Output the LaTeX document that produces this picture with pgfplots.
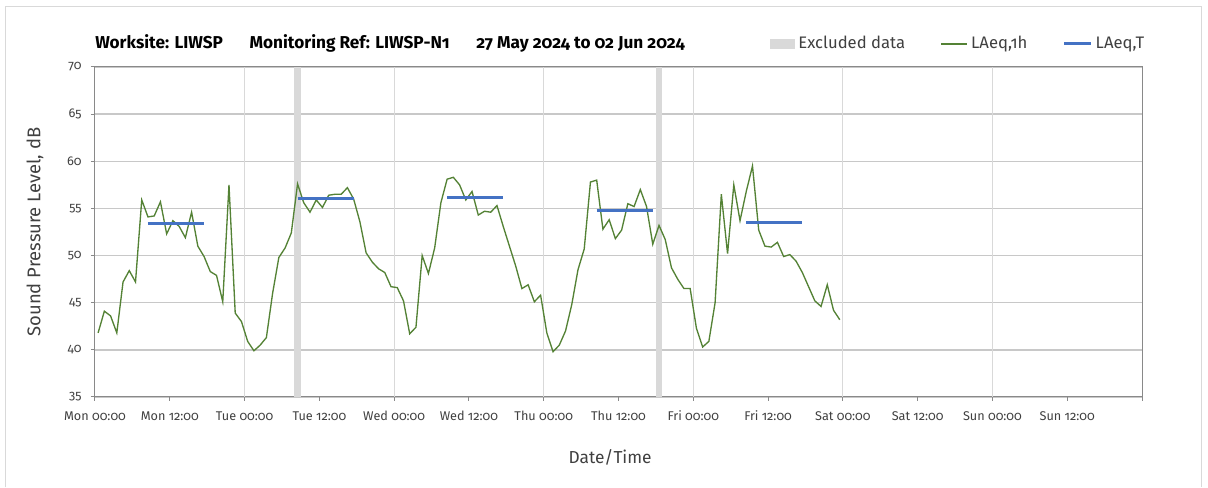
\documentclass[border=0pt]{standalone}
\usepackage{fontspec}
\setmainfont{Fira Sans}[Numbers=OldStyle]
\usepackage{pgfplots}
\usepackage{pgfplotstable}
\pgfplotsset{compat=1.18}

\definecolor{lgreen}{RGB}{84,130,53}
\definecolor{lblue}{RGB}{68,114,196}
\definecolor{excl}{RGB}{217,217,217}
\definecolor{hgrid}{RGB}{200,200,200}
\definecolor{vgrid}{RGB}{217,217,217}
\definecolor{axframe}{RGB}{137,137,137}
\definecolor{txt}{RGB}{64,64,64}

% LAeq,1h, hours from Mon 00:00 (mid-hour)
\pgfplotstableread[row sep=\\]{
t L \\
0.5 41.8 \\ 1.5 44.1 \\ 2.5 43.6 \\ 3.5 41.8 \\ 4.5 47.2 \\ 5.5 48.4 \\
6.5 47.2 \\ 7.5 55.9 \\ 8.5 54.1 \\ 9.5 54.2 \\ 10.5 55.7 \\ 11.5 52.3 \\
12.5 53.7 \\ 13.5 53.1 \\ 14.5 51.9 \\ 15.5 54.6 \\ 16.5 51.0 \\ 17.5 49.9 \\
18.5 48.3 \\ 19.5 47.9 \\ 20.5 45.1 \\ 21.5 57.5 \\ 22.5 43.9 \\ 23.5 43.0 \\
24.5 40.9 \\ 25.5 39.9 \\ 26.5 40.5 \\ 27.5 41.3 \\ 28.5 46.0 \\ 29.5 49.8 \\
30.5 50.8 \\ 31.5 52.4 \\ 32.5 57.6 \\ 33.5 55.6 \\ 34.5 54.6 \\ 35.5 55.9 \\
36.5 55.1 \\ 37.5 56.4 \\ 38.5 56.5 \\ 39.5 56.5 \\ 40.5 57.2 \\ 41.5 56.0 \\
42.5 53.6 \\ 43.5 50.3 \\ 44.5 49.3 \\ 45.5 48.6 \\ 46.5 48.2 \\ 47.5 46.7 \\
48.5 46.6 \\ 49.5 45.2 \\ 50.5 41.7 \\ 51.5 42.4 \\ 52.5 50.0 \\ 53.5 48.1 \\
54.5 50.8 \\ 55.5 55.6 \\ 56.5 58.1 \\ 57.5 58.3 \\ 58.5 57.5 \\ 59.5 55.9 \\
60.5 56.8 \\ 61.5 54.3 \\ 62.5 54.7 \\ 63.5 54.6 \\ 64.5 55.3 \\ 65.5 53.1 \\
66.5 51.0 \\ 67.5 48.9 \\ 68.5 46.5 \\ 69.5 46.9 \\ 70.5 45.1 \\ 71.5 45.8 \\
72.5 41.8 \\ 73.5 39.8 \\ 74.5 40.5 \\ 75.5 42.0 \\ 76.5 44.8 \\ 77.5 48.5 \\
78.5 50.7 \\ 79.5 57.8 \\ 80.5 58.0 \\ 81.5 52.8 \\ 82.5 53.8 \\ 83.5 51.8 \\
84.5 52.7 \\ 85.5 55.5 \\ 86.5 55.2 \\ 87.5 57.0 \\ 88.5 55.2 \\ 89.5 51.2 \\
90.5 53.2 \\ 91.5 51.7 \\ 92.5 48.7 \\ 93.5 47.5 \\ 94.5 46.5 \\ 95.5 46.5 \\
96.5 42.3 \\ 97.5 40.3 \\ 98.5 40.9 \\ 99.5 45.0 \\ 100.5 56.5 \\ 101.5 50.2 \\
102.5 57.5 \\ 103.5 53.7 \\ 104.5 56.8 \\ 105.5 59.5 \\ 106.5 52.7 \\ 107.5 51.0 \\
108.5 50.9 \\ 109.5 51.4 \\ 110.5 49.9 \\ 111.5 50.1 \\ 112.5 49.4 \\ 113.5 48.2 \\
114.5 46.7 \\ 115.5 45.2 \\ 116.5 44.6 \\ 117.5 46.9 \\ 118.5 44.2 \\ 119.5 43.2 \\
}\hourly

\begin{document}
\begin{tikzpicture}
\fill[white] (0pt,0pt) rectangle (906pt,366pt);
\draw[vgrid, line width=0.75pt] (3.75pt,0.5pt) -- (3.75pt,360.75pt) -- (900.75pt,360.75pt) -- (900.75pt,0.5pt);

\node[anchor=base west, inner sep=0pt, font=\bfseries\fontsize{12.9}{15}\selectfont]
  at (71.25pt,329.25pt)
  {Worksite: LIWSP\hspace{20pt}Monitoring Ref: LIWSP-N1\hspace{20pt}27 May 2024 to 02 Jun 2024};

\begin{axis}[
  at={(71.25pt,68.25pt)}, anchor=south west,
  scale only axis, width=785.25pt, height=247.5pt,
  xmin=0, xmax=168, ymin=35, ymax=70,
  axis line style={axframe, line width=0.75pt},
  tick style={axframe, line width=0.75pt},
  tick align=outside, major tick length=3pt,
  xtick pos=bottom, ytick pos=left,
  xtick={0,12,...,168},
  xticklabels={Mon 00:00,Mon 12:00,Tue 00:00,Tue 12:00,Wed 00:00,Wed 12:00,Thu 00:00,Thu 12:00,Fri 00:00,Fri 12:00,Sat 00:00,Sat 12:00,Sun 00:00,Sun 12:00,{}},
  extra x ticks={24,48,72,96,120,144},
  extra x tick labels={},
  extra x tick style={grid=major, major tick length=0pt, major grid style={vgrid, line width=0.75pt}},
  ytick={35,40,...,70},
  ymajorgrids, grid style={hgrid, line width=1pt},
  /pgf/number format/assume math mode=true,
  ticklabel style={font=\fontsize{9.5}{11}\selectfont, text=txt},
  xticklabel style={anchor=base, yshift=-14.5pt},
  yticklabel style={anchor=east, xshift=-3.5pt},
  xlabel={Date/Time},
  ylabel={Sound Pressure Level, dB},
  label style={font=\fontsize{13}{15}\selectfont, text=txt},
  xlabel style={at={(axis description cs:0.492,-0.182)}, anchor=center},
  ylabel style={at={(axis description cs:-0.0573,0.5)}, anchor=center, font=\fontsize{13.8}{16}\selectfont},
  legend columns=3,
  legend style={draw=none, fill=none, inner sep=0pt, outer sep=0pt,
    at={(axis description cs:0.6447,1.0727)}, anchor=west,
    font=\fontsize{12.5}{15}\selectfont, text=txt,
    nodes={inner xsep=2.5pt, inner ysep=0pt, anchor=base west},
    /tikz/every even column/.append style={column sep=24pt}},
  legend cell align=left,
]
\addplot[draw=none, fill=excl,
  legend image code/.code={\fill[excl] (0pt,-0.5pt) rectangle (18.75pt,7pt);}]
  coordinates {(32,35) (32,70) (33,70) (33,35)};
\addlegendentry{Excluded data}
\addplot[draw=none, fill=excl, forget plot]
  coordinates {(90,35) (90,70) (91,70) (91,35)};

\addplot[lgreen, line width=1pt, mark=none,
  legend image code/.code={\draw[lgreen, line width=1pt] (0pt,3.2pt) -- (19.5pt,3.2pt);}]
  table[x=t, y=L] {\hourly};
\addlegendentry{LAeq,1h}

\addplot[lblue, line width=2.25pt, mark=none,
  legend image code/.code={\draw[lblue, line width=2.25pt] (0pt,3.2pt) -- (20pt,3.2pt);}]
  coordinates {(8.5,53.35) (17.5,53.35)};
\addlegendentry{LAeq,T}
\addplot[lblue, line width=2.25pt, forget plot] coordinates {(32.5,56.0) (41.5,56.0)};
\addplot[lblue, line width=2.25pt, forget plot] coordinates {(56.5,56.2) (65.5,56.2)};
\addplot[lblue, line width=2.25pt, forget plot] coordinates {(80.5,54.8) (89.5,54.8)};
\addplot[lblue, line width=2.25pt, forget plot] coordinates {(104.5,53.5) (113.5,53.5)};
\end{axis}
\end{tikzpicture}
\end{document}
